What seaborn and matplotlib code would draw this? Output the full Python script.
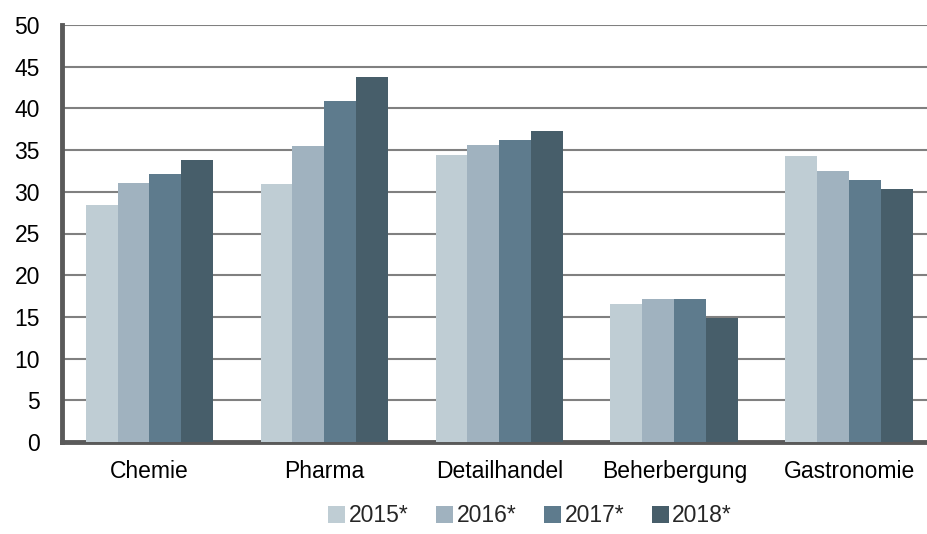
# grouped bar chart: values per sector for 2015-2018
import pandas as pd
import seaborn as sns
import matplotlib.pyplot as plt

# data
sectors = ["Chemie", "Pharma", "Detailhandel", "Beherbergung", "Gastronomie"]
years = ["2015*", "2016*", "2017*", "2018*"]
v2015 = [28.4, 30.9, 34.4, 16.5, 34.3]
v2016 = [31.1, 35.5, 35.6, 17.1, 32.5]
v2017 = [32.1, 40.9, 36.2, 17.2, 31.4]
v2018 = [33.8, 43.8, 37.3, 14.9, 30.3]
colors = ["#bfcdd4", "#a0b2bf", "#5e7b8d", "#475e6a"]

# long format table for seaborn
rows = []
for year, vals in zip(years, [v2015, v2016, v2017, v2018]):
    for sector, v in zip(sectors, vals):
        rows.append({"sector": sector, "year": year, "value": v})
df = pd.DataFrame(rows)

sns.set_style("white")
plt.rcParams['font.family'] = ['Liberation Sans', 'DejaVu Sans']

fig = plt.figure(figsize=(9.28, 5.34), dpi=100)
ax = fig.add_axes([62 / 928, 1 - 442 / 534, 1 - 62 / 928, 417 / 534])

sns.barplot(data=df, x="sector", y="value", hue="year", palette=colors,
            width=0.73, saturation=1, linewidth=0, ax=ax, zorder=3)

# grid and axes styling
ax.set_ylim(0, 50)
ax.set_yticks(range(0, 51, 5))
ax.set_xlim(-0.5, 4.45)
ax.yaxis.grid(True, color="#808080", linewidth=1.5, zorder=0)
ax.set_axisbelow(True)
for side in ["top", "right"]:
    ax.spines[side].set_visible(False)
for side in ["left", "bottom"]:
    ax.spines[side].set_color("#5a5a5a")
    ax.spines[side].set_linewidth(3.5)
ax.tick_params(axis="both", length=0, labelsize=16.5, colors="black")
ax.tick_params(axis="x", pad=13)
ax.tick_params(axis="y", pad=16)
ax.set_xlabel("")
ax.set_ylabel("")

# legend below the plot
ax.legend(loc="center", bbox_to_anchor=(530 / 928, 18 / 534),
          bbox_transform=fig.transFigure, ncol=4, frameon=False,
          fontsize=16.5, handlelength=0.75, handleheight=0.75,
          handletextpad=0.15, columnspacing=1.2)

fig.savefig("out.png", dpi=100)
